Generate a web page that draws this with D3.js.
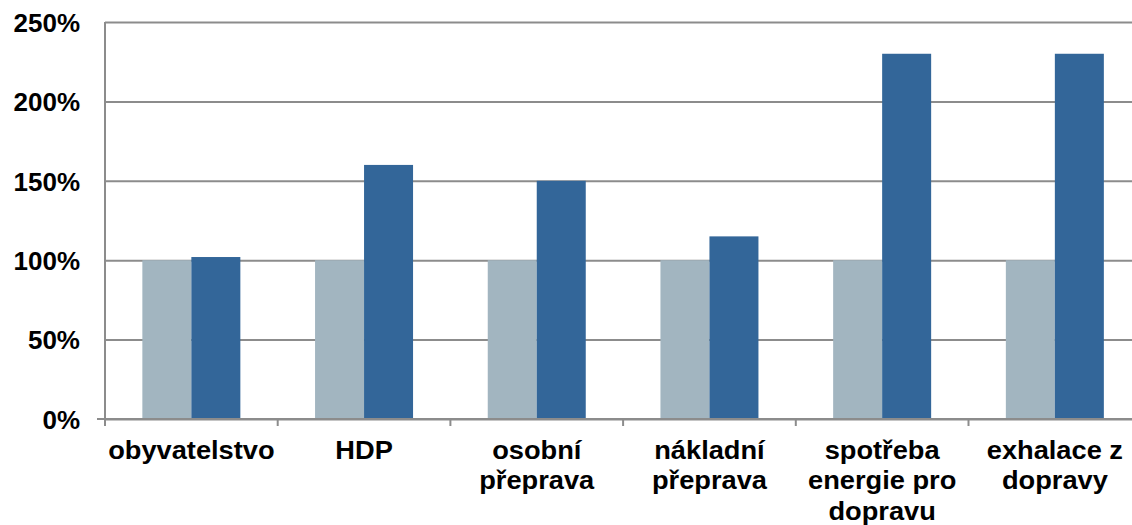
<!DOCTYPE html>
<html>
<head>
<meta charset="utf-8">
<script src="https://cdn.jsdelivr.net/npm/d3@7"></script>
<style>
  body { margin: 0; background: #fff; }
  svg { display: block; font-family: "Liberation Sans", Arial, sans-serif; }
</style>
</head>
<body>
<svg id="chart" width="1132" height="525"></svg>
<script>
// data
const categories = ["obyvatelstvo", "HDP", "osobní přeprava", "nákladní přeprava",
                    "spotřeba energie pro dopravu", "exhalace z dopravy"];
const baseValues = [100, 100, 100, 100, 100, 100];
const currentValues = [102, 160, 150, 115, 230, 230];
const yTicks = [0, 50, 100, 150, 200, 250];

const margin = {top: 22, left: 105, bottom: 419};
const bandWidth = 172.7;
const width = 1132;

const svg = d3.select("#chart");

const x = d3.scaleBand()
    .domain(categories)
    .range([margin.left, margin.left + bandWidth * categories.length])
    .paddingInner(0).paddingOuter(0);

const y = d3.scaleLinear()
    .domain([0, 250])
    .range([margin.bottom, margin.top]);

const gridColor = "#8c8c8c";

// gridlines + y labels
const yAxis = svg.append("g")
    .attr("transform", `translate(${margin.left},0)`)
    .call(d3.axisLeft(y).tickValues(yTicks).tickSize(8)
        .tickFormat(d => d + "%"));
yAxis.select(".domain").remove();
yAxis.selectAll(".tick line")
    .attr("stroke", gridColor).attr("stroke-width", 2)
    .attr("x2", width);
yAxis.selectAll(".tick text")
    .attr("x", -25)
    .attr("dy", "0.36em")
    .style("font-size", "26px").style("font-weight", "bold").attr("fill", "#000");

// bars
const barW = 49;
const inset = (bandWidth - 2 * barW) / 2;
const series = [
  {values: baseValues, color: "#a2b5c0", offset: 0},
  {values: currentValues, color: "#336699", offset: barW}
];
series.forEach(s => {
  svg.append("g").attr("fill", s.color)
    .selectAll("rect")
    .data(categories)
    .join("rect")
      .attr("x", d => x(d) + inset + s.offset)
      .attr("y", (d, i) => y(s.values[i]))
      .attr("width", barW)
      .attr("height", (d, i) => y(0) - y(s.values[i]));
});

// axis lines
svg.append("line")
    .attr("x1", margin.left).attr("x2", margin.left)
    .attr("y1", margin.top).attr("y2", margin.bottom + 7)
    .attr("stroke", gridColor).attr("stroke-width", 2);
svg.append("line")
    .attr("x1", margin.left - 8).attr("x2", width)
    .attr("y1", margin.bottom).attr("y2", margin.bottom)
    .attr("stroke", gridColor).attr("stroke-width", 2);

// x category boundary ticks
svg.append("g")
  .selectAll("line")
  .data(categories.slice(1))
  .join("line")
    .attr("x1", d => x(d)).attr("x2", d => x(d))
    .attr("y1", margin.bottom).attr("y2", margin.bottom + 7)
    .attr("stroke", gridColor).attr("stroke-width", 2);

// x labels with wrapping (reference text is a bit stretched horizontally)
const stretch = 1.09;
function wrapWords(text, maxW) {
  const words = text.split(" ");
  const lines = [];
  let line = [];
  const measure = svg.append("text").style("font-size", "25px").style("font-weight", "bold");
  words.forEach(w => {
    const test = line.concat([w]).join(" ");
    measure.text(test);
    if (line.length && measure.node().getComputedTextLength() * stretch > maxW) {
      lines.push(line.join(" "));
      line = [w];
    } else {
      line.push(w);
    }
  });
  lines.push(line.join(" "));
  measure.remove();
  return lines;
}

const labels = svg.append("g")
  .selectAll("text")
  .data(categories)
  .join("text")
    .attr("text-anchor", "middle")
    .attr("transform", d => `translate(${x(d) + bandWidth / 2},459) scale(${stretch},1)`)
    .style("font-size", "25px").style("font-weight", "bold")
    .attr("fill", "#000");
labels.each(function(d) {
  const lines = wrapWords(d, 175);
  d3.select(this).selectAll("tspan")
    .data(lines)
    .join("tspan")
      .attr("x", 0)
      .attr("dy", (l, i) => i === 0 ? 0 : 30.5)
      .text(l => l);
});
</script>
</body>
</html>
